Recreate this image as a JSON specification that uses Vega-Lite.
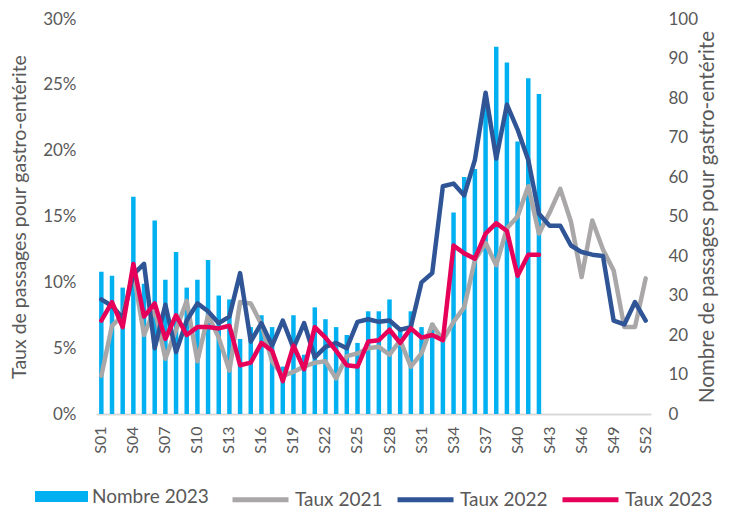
{
  "$schema": "https://vega.github.io/schema/vega-lite/v6.json",
  "width": 555,
  "height": 395,
  "autosize": {"type": "none"},
  "padding": {"left": 96, "top": 19, "right": 83, "bottom": 95},
  "background": "white",
  "config": {
    "view": {"stroke": null},
    "font": "Lato",
    "axis": {"labelColor": "#595959", "titleColor": "#595959", "labelFontSize": 17, "titleFontSize": 19.5, "titleFontWeight": "normal", "grid": false, "ticks": false},
    "legend": {"labelColor": "#595959", "labelFontSize": 19}
  },
  "data": {"values": [
    {"semaine": "S01", "nombre": 36, "t2021": 2.9, "t2022": 8.7, "t2023": 7.1},
    {"semaine": "S02", "nombre": 35, "t2021": 6.7, "t2022": 8.2, "t2023": 8.5},
    {"semaine": "S03", "nombre": 32, "t2021": 7.5, "t2022": 7.3, "t2023": 6.6},
    {"semaine": "S04", "nombre": 55, "t2021": 10.8, "t2022": 10.6, "t2023": 11.4},
    {"semaine": "S05", "nombre": 33, "t2021": 6.0, "t2022": 11.4, "t2023": 7.4},
    {"semaine": "S06", "nombre": 49, "t2021": 8.0, "t2022": 5.0, "t2023": 8.4},
    {"semaine": "S07", "nombre": 34, "t2021": 4.2, "t2022": 8.3, "t2023": 5.7},
    {"semaine": "S08", "nombre": 41, "t2021": 6.4, "t2022": 4.7, "t2023": 7.5},
    {"semaine": "S09", "nombre": 32, "t2021": 8.6, "t2022": 7.1, "t2023": 6.0},
    {"semaine": "S10", "nombre": 34, "t2021": 4.0, "t2022": 8.4, "t2023": 6.6},
    {"semaine": "S11", "nombre": 39, "t2021": 7.5, "t2022": 7.8, "t2023": 6.6},
    {"semaine": "S12", "nombre": 30, "t2021": 5.8, "t2022": 6.9, "t2023": 6.5},
    {"semaine": "S13", "nombre": 29, "t2021": 3.3, "t2022": 7.4, "t2023": 6.7},
    {"semaine": "S14", "nombre": 19, "t2021": 8.5, "t2022": 10.7, "t2023": 3.7},
    {"semaine": "S15", "nombre": 22, "t2021": 8.4, "t2022": 5.5, "t2023": 3.9},
    {"semaine": "S16", "nombre": 25, "t2021": 6.8, "t2022": 6.9, "t2023": 5.4},
    {"semaine": "S17", "nombre": 22, "t2021": 4.0, "t2022": 5.2, "t2023": 4.8},
    {"semaine": "S18", "nombre": 12, "t2021": 2.9, "t2022": 7.1, "t2023": 2.5},
    {"semaine": "S19", "nombre": 25, "t2021": 3.2, "t2022": 5.0, "t2023": 5.2},
    {"semaine": "S20", "nombre": 15, "t2021": 3.6, "t2022": 6.9, "t2023": 3.4},
    {"semaine": "S21", "nombre": 27, "t2021": 3.9, "t2022": 4.3, "t2023": 6.6},
    {"semaine": "S22", "nombre": 24, "t2021": 4.0, "t2022": 5.1, "t2023": 5.8},
    {"semaine": "S23", "nombre": 22, "t2021": 2.7, "t2022": 5.4, "t2023": 4.8},
    {"semaine": "S24", "nombre": 20, "t2021": 4.4, "t2022": 5.0, "t2023": 3.7},
    {"semaine": "S25", "nombre": 18, "t2021": 4.6, "t2022": 7.0, "t2023": 3.6},
    {"semaine": "S26", "nombre": 26, "t2021": 5.0, "t2022": 7.2, "t2023": 5.5},
    {"semaine": "S27", "nombre": 26, "t2021": 5.1, "t2022": 7.0, "t2023": 5.6},
    {"semaine": "S28", "nombre": 29, "t2021": 4.5, "t2022": 7.1, "t2023": 6.4},
    {"semaine": "S29", "nombre": 22, "t2021": 5.6, "t2022": 6.4, "t2023": 5.4},
    {"semaine": "S30", "nombre": 26, "t2021": 3.6, "t2022": 6.6, "t2023": 6.5},
    {"semaine": "S31", "nombre": 22, "t2021": 4.6, "t2022": 10.0, "t2023": 5.8},
    {"semaine": "S32", "nombre": 23, "t2021": 6.8, "t2022": 10.7, "t2023": 6.0},
    {"semaine": "S33", "nombre": 19, "t2021": 5.6, "t2022": 17.3, "t2023": 5.6},
    {"semaine": "S34", "nombre": 51, "t2021": 7.0, "t2022": 17.5, "t2023": 12.8},
    {"semaine": "S35", "nombre": 60, "t2021": 8.1, "t2022": 16.6, "t2023": 12.2},
    {"semaine": "S36", "nombre": 62, "t2021": 11.7, "t2022": 19.3, "t2023": 11.8},
    {"semaine": "S37", "nombre": 79, "t2021": 13.0, "t2022": 24.4, "t2023": 13.7},
    {"semaine": "S38", "nombre": 93, "t2021": 11.3, "t2022": 19.4, "t2023": 14.5},
    {"semaine": "S39", "nombre": 89, "t2021": 14.1, "t2022": 23.5, "t2023": 13.9},
    {"semaine": "S40", "nombre": 69, "t2021": 15.0, "t2022": 21.6, "t2023": 10.5},
    {"semaine": "S41", "nombre": 85, "t2021": 17.3, "t2022": 19.3, "t2023": 12.1},
    {"semaine": "S42", "nombre": 81, "t2021": 13.7, "t2022": 15.2, "t2023": 12.1},
    {"semaine": "S43", "nombre": null, "t2021": 15.3, "t2022": 14.3, "t2023": null},
    {"semaine": "S44", "nombre": null, "t2021": 17.1, "t2022": 14.3, "t2023": null},
    {"semaine": "S45", "nombre": null, "t2021": 14.6, "t2022": 12.8, "t2023": null},
    {"semaine": "S46", "nombre": null, "t2021": 10.4, "t2022": 12.3, "t2023": null},
    {"semaine": "S47", "nombre": null, "t2021": 14.7, "t2022": 12.1, "t2023": null},
    {"semaine": "S48", "nombre": null, "t2021": 12.5, "t2022": 12.0, "t2023": null},
    {"semaine": "S49", "nombre": null, "t2021": 10.9, "t2022": 7.1, "t2023": null},
    {"semaine": "S50", "nombre": null, "t2021": 6.6, "t2022": 6.8, "t2023": null},
    {"semaine": "S51", "nombre": null, "t2021": 6.6, "t2022": 8.5, "t2023": null},
    {"semaine": "S52", "nombre": null, "t2021": 10.3, "t2022": 7.1, "t2023": null}
  ]},
  "layer": [
    {
      "transform": [{"fold": ["nombre"], "as": ["serie", "valeur"]}],
      "mark": {"type": "bar", "width": {"band": 0.42}},
      "encoding": {
        "x": {
          "field": "semaine", "type": "ordinal",
          "scale": {"paddingInner": 0, "paddingOuter": 0},
          "axis": {
            "title": null,
            "values": ["S01","S04","S07","S10","S13","S16","S19","S22","S25","S28","S31","S34","S37","S40","S43","S46","S49","S52"],
            "labelAngle": 270, "labelFontSize": 16, "labelPadding": 12,
            "domainColor": "#D9D9D9", "domainWidth": 2
          }
        },
        "y": {
          "field": "valeur", "type": "quantitative",
          "scale": {"domain": [0, 100], "nice": false},
          "axis": {
            "orient": "right", "values": [0,10,20,30,40,50,60,70,80,90,100],
            "domain": false, "labelPadding": 17,
            "title": "Nombre de passages pour gastro-entérite",
            "titleAngle": 270, "titlePadding": 20, "titleFontSize": 20.5
          }
        },
        "fill": {
          "field": "serie", "type": "nominal",
          "scale": {"range": ["#00B0F0"]},
          "legend": {
            "orient": "none", "legendX": -61, "legendY": 451,
            "title": null, "direction": "horizontal",
            "symbolType": "M-1,-0.21L1,-0.21L1,0.21L-1,0.21Z",
            "symbolSize": 2809, "symbolStrokeWidth": 0, "labelOffset": 4,
            "labelExpr": "'Nombre 2023'"
          }
        }
      }
    },
    {
      "transform": [{"fold": ["t2021", "t2022", "t2023"], "as": ["serie", "taux"]}],
      "mark": {"type": "line", "strokeWidth": 4.5, "strokeJoin": "round", "strokeCap": "round"},
      "encoding": {
        "x": {"field": "semaine", "type": "ordinal"},
        "y": {
          "field": "taux", "type": "quantitative",
          "scale": {"domain": [0, 30], "nice": false},
          "axis": {
            "orient": "left", "values": [0,5,10,15,20,25,30],
            "labelExpr": "datum.value + '%'",
            "domain": false, "labelPadding": 20,
            "title": "Taux de passages pour gastro-entérite",
            "titlePadding": 13
          }
        },
        "stroke": {
          "field": "serie", "type": "nominal",
          "scale": {"domain": ["t2021", "t2022", "t2023"], "range": ["#A9A7A7", "#2F5597", "#E6005A"]},
          "legend": {
            "orient": "none", "legendX": 134, "legendY": 450,
            "title": null, "direction": "horizontal",
            "symbolType": "stroke", "symbolStrokeWidth": 5, "symbolSize": 3136,
            "labelOffset": 4, "columnPadding": 4,
            "labelExpr": "'Taux ' + substring(datum.label, 1)"
          }
        }
      }
    }
  ],
  "resolve": {"scale": {"y": "independent"}}
}
